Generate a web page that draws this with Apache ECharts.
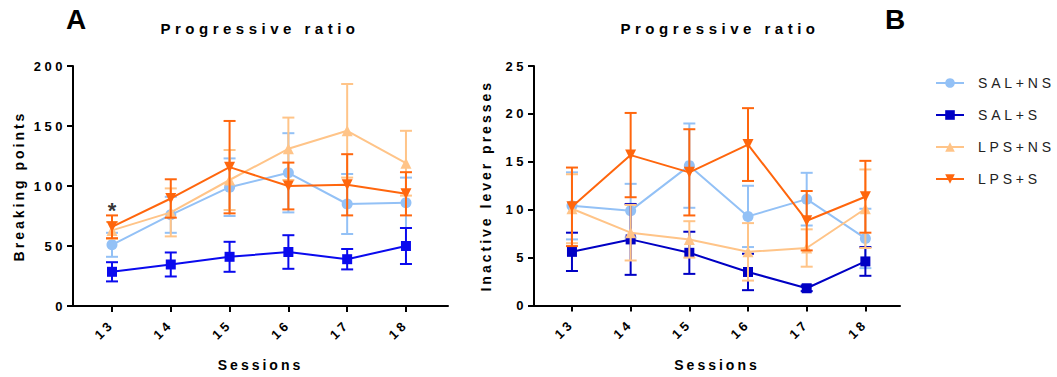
<!DOCTYPE html>
<html><head><meta charset="utf-8">
<script src="https://cdn.jsdelivr.net/npm/echarts@6/dist/echarts.min.js"></script>
<style>html,body{margin:0;padding:0;background:#fff}#chart{width:1057px;height:377px}</style>
</head><body><div id="chart"></div>
<script>
// ---- data ----
const sessions = [13, 14, 15, 16, 17, 18];
const groupNames = ['SAL+NS', 'SAL+S', 'LPS+NS', 'LPS+S'];
// Panel A: breaking points (mean, error)
const bpSalNS = [51, 76, 99, 111, 85, 86];
const bpSalNSErr = [10, 15, 24, 33, 25, 21];
const bpSalS = [28.5, 34.6, 41, 45, 39, 50];
const bpSalSErr = [8, 10, 12.5, 14, 8.5, 15];
const bpLpsNS = [63, 78, 105, 131, 146, 119];
const bpLpsNSErr = [7, 20, 25, 26, 39, 27];
const bpLpsS = [66, 89.6, 115.7, 100, 101, 93.5];
const bpLpsSErr = [9.5, 16, 38.5, 19.5, 25.5, 18];
// Panel B: inactive lever presses (mean, error)
const ilpSalNS = [10.4, 9.9, 14.6, 9.3, 11.1, 7.0];
const ilpSalNSErr = [3.5, 2.8, 4.4, 3.2, 2.75, 3.1];
const ilpSalS = [5.6, 6.9, 5.5, 3.5, 1.8, 4.6];
const ilpSalSErr = [2, 3.7, 2.2, 1.9, 0.3, 1.5];
const ilpLpsNS = [10.1, 7.6, 6.9, 5.6, 6.0, 10.1];
const ilpLpsNSErr = [3.6, 2.9, 1.9, 3, 1.95, 4.1];
const ilpLpsS = [10.3, 15.7, 13.9, 16.8, 8.85, 11.35];
const ilpLpsSErr = [4.1, 4.4, 4.5, 3.8, 3.1, 3.75];
// significance marker (session, value)
const sigMarks = [[13, 80]];
const yTicksA = [0, 50, 100, 150, 200];
const yTicksB = [0, 5, 10, 15, 20, 25];

// ---- styles ----
const FONT = "'Liberation Sans', Arial, sans-serif";
const cLightBlue = '#93c1f6';
const cBlueA = '#0a0aee';
const cBlueB = '#0000c4';
const cLightOrange = '#ffc488';
const cOrange = '#ff660d';

function errRender(color) {
  return function (params, api) {
    const x = api.value(0), y = api.value(1), e = api.value(2);
    const hi = api.coord([x, y + e]);
    const lo = api.coord([x, y - e]);
    const w = 6;
    const st = { stroke: color, lineWidth: 2, fill: null };
    return { type: 'group', children: [
      { type: 'line', shape: { x1: hi[0], y1: hi[1], x2: lo[0], y2: lo[1] }, style: st },
      { type: 'line', shape: { x1: hi[0] - w, y1: hi[1], x2: hi[0] + w, y2: hi[1] }, style: st },
      { type: 'line', shape: { x1: lo[0] - w, y1: lo[1], x2: lo[0] + w, y2: lo[1] }, style: st }
    ]};
  };
}

const series = [];
function addGroup(g, name, vals, errs, color, symbol, size, rotate, z) {
  series.push({
    type: 'custom', name: name + ' error', xAxisIndex: g, yAxisIndex: g, silent: true, z: z,
    encode: { x: 0, y: 1 },
    data: sessions.map((s, i) => [s, vals[i], errs[i]]),
    renderItem: errRender(color)
  });
  series.push({
    type: 'line', name: name, xAxisIndex: g, yAxisIndex: g, z: z + 1, silent: true,
    data: sessions.map((s, i) => [s, vals[i]]),
    symbol: symbol, symbolSize: size, symbolRotate: rotate, showAllSymbol: true,
    color: color, itemStyle: { color: color, opacity: 1 }, lineStyle: { width: 2, color: color }
  });
}
// panel B first (legend colours taken from it)
addGroup(1, 'SAL+NS', ilpSalNS, ilpSalNSErr, cLightBlue, 'circle', 11, 0, 2);
addGroup(1, 'SAL+S', ilpSalS, ilpSalSErr, cBlueB, 'rect', 10, 0, 4);
addGroup(1, 'LPS+NS', ilpLpsNS, ilpLpsNSErr, cLightOrange, 'triangle', 11, 0, 6);
addGroup(1, 'LPS+S', ilpLpsS, ilpLpsSErr, cOrange, 'triangle', 11, 180, 8);
addGroup(0, 'SAL+NS', bpSalNS, bpSalNSErr, cLightBlue, 'circle', 11, 0, 2);
addGroup(0, 'SAL+S', bpSalS, bpSalSErr, cBlueA, 'rect', 10, 0, 4);
addGroup(0, 'LPS+NS', bpLpsNS, bpLpsNSErr, cLightOrange, 'triangle', 11, 0, 6);
addGroup(0, 'LPS+S', bpLpsS, bpLpsSErr, cOrange, 'triangle', 11, 180, 8);
series.push({
  type: 'scatter', name: 'sig', xAxisIndex: 0, yAxisIndex: 0, silent: true, z: 20,
  data: sigMarks, symbolSize: 0,
  label: { show: true, position: 'inside', formatter: '*', color: '#000', fontSize: 22, fontWeight: 'bold', fontFamily: FONT }
});

function xAxisCfg(g, min, max) {
  return {
    type: 'value', gridIndex: g, min: min, max: max,
    name: 'Sessions', nameLocation: 'middle', nameGap: 52,
    nameTextStyle: { fontFamily: FONT, fontSize: 14, fontWeight: 'bold', color: '#000' },
    axisLine: { show: true, lineStyle: { color: '#000', width: 2 } },
    axisTick: { show: true, length: 6, lineStyle: { color: '#000', width: 2 }, customValues: sessions },
    axisLabel: { rotate: 45, margin: 16, customValues: sessions, fontFamily: FONT, fontSize: 13, fontWeight: 'bold', color: '#000' },
    splitLine: { show: false }
  };
}
function yAxisCfg(g, name, ticks, nameGap) {
  return {
    type: 'value', gridIndex: g, min: ticks[0], max: ticks[ticks.length - 1], interval: ticks[1] - ticks[0],
    name: name, nameLocation: 'middle', nameGap: nameGap,
    nameTextStyle: { fontFamily: FONT, fontSize: 14, fontWeight: 'bold', color: '#000' },
    axisLine: { show: true, lineStyle: { color: '#000', width: 2 } },
    axisTick: { show: true, length: 6, lineStyle: { color: '#000', width: 2 } },
    axisLabel: { margin: 7, fontFamily: FONT, fontSize: 13, fontWeight: 'bold', color: '#000' },
    splitLine: { show: false }
  };
}

const option = {
  animation: false,
  backgroundColor: '#fff',
  title: [
    { text: 'A', left: 76, top: 5, padding: 0, textAlign: 'center', textStyle: { fontFamily: FONT, fontSize: 28, fontWeight: 'bold', color: '#000' } },
    { text: 'B', left: 895, top: 5, padding: 0, textAlign: 'center', textStyle: { fontFamily: FONT, fontSize: 28, fontWeight: 'bold', color: '#000' } },
    { text: 'Progressive ratio', left: 260, top: 21, padding: 0, textAlign: 'center', textStyle: { fontFamily: FONT, fontSize: 15, fontWeight: 'bold', color: '#000' } },
    { text: 'Progressive ratio', left: 720, top: 21, padding: 0, textAlign: 'center', textStyle: { fontFamily: FONT, fontSize: 15, fontWeight: 'bold', color: '#000' } }
  ],
  legend: {
    orient: 'vertical', left: 935, top: 76, padding: 0,
    itemWidth: 28, itemHeight: 12, itemGap: 18,
    data: groupNames,
    selectedMode: false,
    textStyle: { fontFamily: FONT, fontSize: 14, color: '#222', lineHeight: 12, padding: [0, 0, 0, 9] }
  },
  grid: [
    { left: 73, top: 66, width: 375, height: 240.5 },
    { left: 534, top: 66, width: 366, height: 239.5 }
  ],
  xAxis: [xAxisCfg(0, 12.337, 18.715), xAxisCfg(1, 12.353, 18.59)],
  yAxis: [yAxisCfg(0, 'Breaking points', yTicksA, 47), yAxisCfg(1, 'Inactive lever presses', yTicksB, 41)],
  series: series
};

const chart = echarts.init(document.getElementById('chart'), null, { renderer: 'svg' });
chart.setOption(option);

const spacingBySize = { '15': 4.5, '13': 3.5, '14': 3 };
const legendSpacing = 3.8;
function applySpacing() {
  document.querySelectorAll('#chart svg text').forEach(t => {
    const fs = String(parseFloat(getComputedStyle(t).fontSize));
    let ls = spacingBySize[fs];
    if (groupNames.indexOf(t.textContent) >= 0) ls = legendSpacing;
    if (ls != null) t.setAttribute('letter-spacing', ls);
  });
}
applySpacing();
chart.on('finished', applySpacing);
</script></body></html>
